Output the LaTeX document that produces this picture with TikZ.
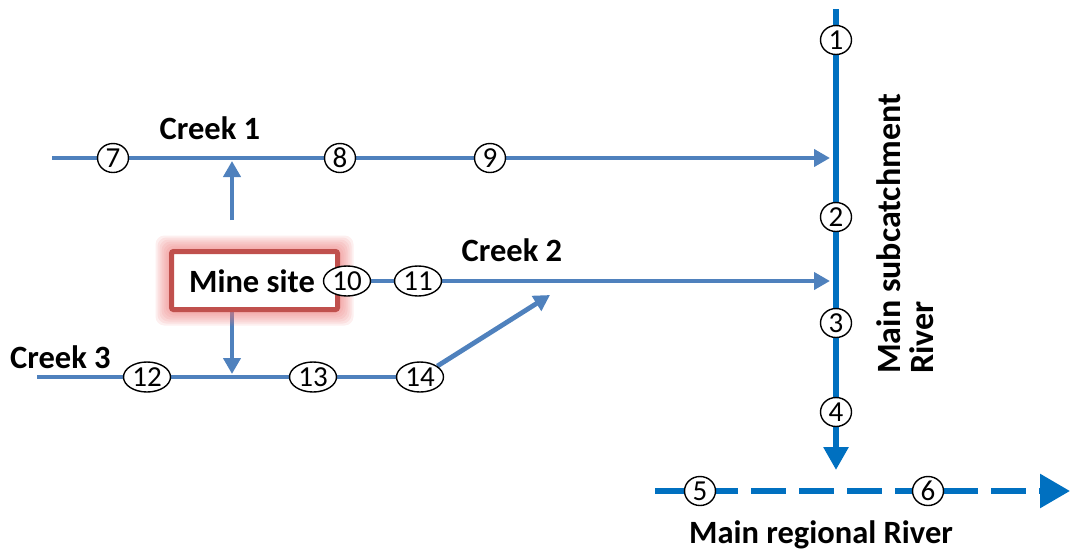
\documentclass[tikz,border=0pt]{standalone}
\usepackage{fontspec}
\setmainfont{Carlito}
\usetikzlibrary{arrows.meta,shapes.geometric,backgrounds}
\definecolor{creekc}{RGB}{79,129,189}
\definecolor{riverc}{RGB}{0,112,192}
\definecolor{minered}{RGB}{192,80,77}
\definecolor{glowc}{RGB}{236,120,120}
\tikzset{
  creekline/.style={draw=creekc, line width=4.8pt},
  creekarrow/.style={creekline, -{Triangle[length=16pt,width=17pt]}},
  riverline/.style={draw=riverc, line width=6pt},
  num/.style={ellipse, draw=black, line width=1.4pt, fill=white, inner sep=0pt,
    minimum width=31pt, minimum height=29pt, font=\fontsize{29}{29}\selectfont},
  numw/.style={num, minimum width=47pt, minimum height=30pt},
  lbl/.style={font=\fontsize{32.5}{33}\selectfont\bfseries, inner sep=0pt},
  minebox/.style={draw=minered, line width=5pt, fill=white, rounded corners=2pt,
    minimum width=166pt, minimum height=58pt, inner sep=0pt},
}
\begin{document}
\begin{tikzpicture}[x=1pt,y=-1pt]
\useasboundingbox (0,0) rectangle (1071,555);

% glow around the mine site
\foreach \i in {2,4,...,16}
  \fill[glowc, opacity=0.12, rounded corners=9pt] (171.5-\i,251.5-\i) rectangle (337.5+\i,309.5+\i);

% line end points
\coordinate (c1s) at (52,158);
\coordinate (c1e) at (830,158);
\coordinate (upst) at (232,220);
\coordinate (upend) at (232,161);
\coordinate (c2e) at (830,281);
\coordinate (c3s) at (37,377);
\coordinate (dnend) at (232,374);
\coordinate (c2in) at (550,295);
\coordinate (rvs) at (836,9);
\coordinate (rve) at (836,470);
\coordinate (rgs) at (655,491);
\coordinate (rge) at (1070,491);

% mine site
\node[minebox] (mine) at (254.5,280.5) {};
\node[lbl] (minetxt) at (252,281) {Mine site};

% numbered points
\node[num] (n1) at (836,40) {1};
\node[num] (n2) at (836,217) {2};
\node[num] (n3) at (836,323) {3};
\node[num] (n4) at (836,412) {4};
\node[num] (n5) at (700,491) {5};
\node[num] (n6) at (928,491) {6};
\node[num] (n7) at (113,158) {7};
\node[num] (n8) at (340,158) {8};
\node[num] (n9) at (490,158) {9};
\node[numw] (n10) at (347,281) {10};
\node[numw] (n11) at (418,281) {11};
\node[numw] (n12) at (147,377) {12};
\node[numw] (n13) at (313,377) {13};
\node[numw] (n14) at (420,377) {14};

% labels
\node[lbl] (lc1) at (210,128) {Creek 1};
\node[lbl] (lc2) at (512,250) {Creek 2};
\node[lbl, anchor=west] (lc3) at (10,357) {Creek 3};
\node[lbl] (lreg) at (821,535) {Main regional River};
\node[lbl, rotate=90, anchor=north west, align=left, font=\fontsize{34}{33}\selectfont\bfseries] (lsub) at (876,374) {Main subcatchment\\River};

\begin{pgfonlayer}{background}
  \draw[creekarrow] (c1s) -- (c1e);
  \draw[creekarrow] (upst) -- (upend);
  \draw[creekarrow] (n10) -- (c2e);
  \draw[creekline] (c3s) -- (n14);
  \draw[creekarrow] (mine.south -| upst) -- (dnend);
  \draw[creekarrow] (n14) -- (c2in);
  \draw[riverline, -{Triangle[length=23pt,width=24pt]}] (rvs) -- (rve);
  \draw[riverline, dash pattern=on 35pt off 13pt, -{Triangle[length=30pt,width=33pt]}] (rgs) -- (rge);
\end{pgfonlayer}
\end{tikzpicture}
\end{document}
